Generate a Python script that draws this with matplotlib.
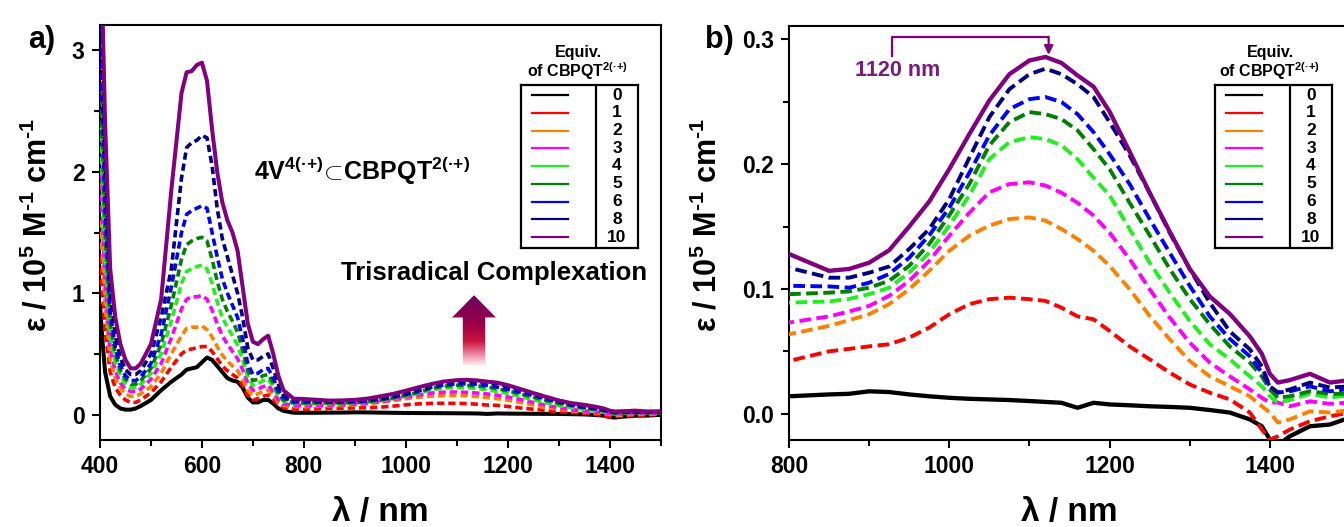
import numpy as np
import matplotlib
matplotlib.use("Agg")
import matplotlib.pyplot as plt
from matplotlib.patches import Polygon
from matplotlib.colors import LinearSegmentedColormap
from matplotlib.ticker import MultipleLocator

plt.rcParams['font.family'] = ['Liberation Sans', 'DejaVu Sans']
plt.rcParams['font.weight'] = 'bold'
plt.rcParams['mathtext.fontset'] = 'custom'
plt.rcParams['mathtext.rm'] = 'Liberation Sans:bold'
plt.rcParams['mathtext.it'] = 'Liberation Sans:bold'
plt.rcParams['mathtext.bf'] = 'Liberation Sans:bold'

# ---------------- data ----------------
wl_vis = [400, 405, 410, 420, 430, 440, 450, 460, 470, 480, 500, 520, 540, 560, 570, 580, 590, 600,
          610, 620, 630, 640, 650, 660, 670, 680, 690, 700, 710, 720, 730, 740, 750, 760, 780]
wl_nir = [800, 850, 875, 900, 925, 950, 975, 1000, 1025, 1050, 1075, 1100, 1120, 1140, 1160, 1180,
          1200, 1225, 1250, 1275, 1300, 1325, 1350, 1375, 1390, 1400, 1410, 1425, 1450, 1475, 1500]
wavelength = wl_vis + wl_nir

equiv_labels = ['0', '1', '2', '3', '4', '5', '6', '8', '10']
colors = ['#000000', '#ff0000', '#ff8000', '#ff00ff', '#22ee22', '#008000', '#0000ff', '#000080', '#800080']

eps_0 = [0.9, 0.6, 0.35, 0.15, 0.08, 0.05, 0.04, 0.04, 0.05, 0.07, 0.12, 0.2, 0.27, 0.33, 0.37, 0.38, 0.39, 0.43,
         0.47, 0.45, 0.40, 0.35, 0.30, 0.28, 0.27, 0.22, 0.14, 0.10, 0.10, 0.12, 0.12, 0.09, 0.05, 0.03, 0.015,
         0.014, 0.0155, 0.016, 0.018, 0.0174, 0.0155, 0.014, 0.0128, 0.012, 0.0115, 0.011, 0.0102, 0.0095, 0.0088,
         0.0048, 0.0088, 0.0075, 0.0068, 0.006, 0.0055, 0.0048, 0.003, 0.001, -0.0045, -0.010, -0.0206, -0.025,
         -0.018, -0.010, -0.0086, -0.003]
eps_1 = [1.3, 1.0, 0.7, 0.35, 0.22, 0.16, 0.12, 0.10, 0.10, 0.12, 0.18, 0.27, 0.39, 0.50, 0.53, 0.54, 0.55, 0.56,
         0.56, 0.52, 0.46, 0.40, 0.36, 0.33, 0.30, 0.24, 0.16, 0.12, 0.13, 0.15, 0.16, 0.13, 0.08, 0.06, 0.045,
         0.0423, 0.050, 0.052, 0.054, 0.0557, 0.061, 0.069, 0.0797, 0.0878, 0.0918, 0.093, 0.0918, 0.0904, 0.085,
         0.078, 0.0757, 0.0664, 0.054, 0.0436, 0.033, 0.0235, 0.0169, 0.0115, 0.001, -0.0126, -0.0206, -0.018,
         -0.0126, -0.006, -0.002, 0.001]
eps_2 = [1.6, 1.3, 0.9, 0.45, 0.30, 0.22, 0.17, 0.15, 0.15, 0.17, 0.23, 0.34, 0.50, 0.65, 0.71, 0.72, 0.72, 0.73,
         0.70, 0.64, 0.56, 0.49, 0.44, 0.40, 0.36, 0.29, 0.20, 0.16, 0.17, 0.19, 0.20, 0.16, 0.10, 0.075, 0.065,
         0.0637, 0.0704, 0.075, 0.0797, 0.0878, 0.0998, 0.1145, 0.1306, 0.1426, 0.1507, 0.156, 0.1573, 0.1547,
         0.148, 0.140, 0.1306, 0.1185, 0.0998, 0.0784, 0.0597, 0.0423, 0.030, 0.022, 0.014, 0.006, 0.001, -0.007,
         -0.0045, 0.002, 0.001, 0.003]
eps_3 = [2.0, 1.6, 1.1, 0.55, 0.36, 0.26, 0.21, 0.19, 0.19, 0.21, 0.29, 0.42, 0.63, 0.87, 0.95, 0.97, 0.97, 0.98,
         0.95, 0.86, 0.75, 0.65, 0.58, 0.52, 0.46, 0.37, 0.26, 0.20, 0.21, 0.23, 0.24, 0.19, 0.12, 0.09, 0.075,
         0.073, 0.078, 0.082, 0.0864, 0.0945, 0.1065, 0.1225, 0.1426, 0.161, 0.1774, 0.184, 0.1854, 0.1828, 0.177,
         0.169, 0.1587, 0.145, 0.124, 0.0998, 0.077, 0.057, 0.041, 0.030, 0.0195, 0.0128, 0.009, 0.009, 0.006,
         0.010, 0.008, 0.009]
eps_4 = [2.4, 1.9, 1.3, 0.65, 0.43, 0.32, 0.25, 0.22, 0.22, 0.25, 0.34, 0.50, 0.77, 1.08, 1.18, 1.20, 1.22, 1.23,
         1.20, 1.08, 0.93, 0.80, 0.72, 0.65, 0.57, 0.45, 0.31, 0.24, 0.25, 0.28, 0.29, 0.23, 0.15, 0.11, 0.09,
         0.089, 0.090, 0.092, 0.0958, 0.101, 0.113, 0.129, 0.1507, 0.175, 0.204, 0.2176, 0.2216, 0.220, 0.215,
         0.204, 0.189, 0.175, 0.148, 0.121, 0.097, 0.0744, 0.0557, 0.0436, 0.030, 0.022, 0.014, 0.009, 0.011,
         0.016, 0.013, 0.015]
eps_5 = [2.7, 2.2, 1.5, 0.75, 0.50, 0.36, 0.29, 0.25, 0.25, 0.28, 0.38, 0.58, 0.90, 1.28, 1.40, 1.43, 1.45, 1.46,
         1.43, 1.28, 1.10, 0.95, 0.85, 0.77, 0.68, 0.53, 0.36, 0.28, 0.29, 0.32, 0.33, 0.26, 0.17, 0.12, 0.098,
         0.0958, 0.097, 0.098, 0.101, 0.1065, 0.1185, 0.136, 0.159, 0.184, 0.215, 0.2336, 0.2416, 0.240, 0.236,
         0.227, 0.212, 0.196, 0.169, 0.143, 0.116, 0.092, 0.0717, 0.054, 0.041, 0.030, 0.0195, 0.0128, 0.014,
         0.018, 0.016, 0.016]
eps_6 = [3.0, 2.5, 1.7, 0.85, 0.55, 0.40, 0.32, 0.28, 0.28, 0.31, 0.42, 0.66, 1.05, 1.50, 1.65, 1.68, 1.70, 1.72,
         1.70, 1.50, 1.30, 1.12, 1.00, 0.90, 0.80, 0.62, 0.42, 0.33, 0.34, 0.37, 0.38, 0.30, 0.20, 0.14, 0.105,
         0.1025, 0.102, 0.101, 0.105, 0.112, 0.125, 0.143, 0.165, 0.193, 0.223, 0.244, 0.252, 0.2537, 0.2497,
         0.240, 0.2256, 0.208, 0.184, 0.156, 0.129, 0.1025, 0.078, 0.060, 0.046, 0.033, 0.022, 0.017, 0.018,
         0.022, 0.018, 0.020]
eps_8 = [3.3, 2.9, 2.1, 1.0, 0.65, 0.47, 0.37, 0.33, 0.33, 0.36, 0.50, 0.80, 1.20, 1.95, 2.20, 2.24, 2.26, 2.30,
         2.28, 2.05, 1.70, 1.45, 1.30, 1.15, 1.00, 0.80, 0.55, 0.45, 0.45, 0.48, 0.50, 0.38, 0.25, 0.16, 0.12,
         0.117, 0.109, 0.109, 0.113, 0.118, 0.132, 0.148, 0.172, 0.205, 0.2376, 0.260, 0.272, 0.2764, 0.272,
         0.264, 0.2537, 0.2336, 0.207, 0.177, 0.145, 0.116, 0.089, 0.066, 0.0516, 0.038, 0.022, 0.017, 0.0195,
         0.025, 0.021, 0.022]
eps_10 = [3.6, 3.3, 2.4, 1.2, 0.80, 0.58, 0.45, 0.38, 0.38, 0.42, 0.58, 0.95, 1.85, 2.65, 2.82, 2.83, 2.88, 2.90,
          2.75, 2.35, 2.00, 1.75, 1.60, 1.50, 1.35, 1.05, 0.75, 0.60, 0.58, 0.62, 0.65, 0.50, 0.32, 0.20, 0.13,
          0.128, 0.1145, 0.116, 0.121, 0.131, 0.150, 0.170, 0.196, 0.224, 0.251, 0.272, 0.283, 0.2858, 0.281,
          0.271, 0.262, 0.242, 0.210, 0.177, 0.146, 0.116, 0.094, 0.080, 0.062, 0.048, 0.032, 0.025, 0.027,
          0.032, 0.025, 0.027]
series = [eps_0, eps_1, eps_2, eps_3, eps_4, eps_5, eps_6, eps_8, eps_10]

purple = '#800080'

# ---------------- figure ----------------
W, H = 1344, 527
fig = plt.figure(figsize=(W / 100, H / 100), dpi=100)


def px_axes(l, t, r, b):
    return fig.add_axes([l / W, 1 - b / H, (r - l) / W, (b - t) / H])


ax_a = px_axes(100, 25, 660.5, 440)
ax_b = px_axes(789, 26, 1350, 440)


def style_axes(ax):
    for s in ax.spines.values():
        s.set_linewidth(1.5)
    ax.tick_params(which='both', direction='out', top=False, right=False, width=1.5)
    ax.tick_params(which='major', length=6, labelsize=16.5, pad=5)
    ax.tick_params(which='minor', length=4)


def draw_series(ax, dash, lw):
    for i, (vals, c) in enumerate(zip(series, colors)):
        solid = equiv_labels[i] in ('0', '10')
        ls = '-' if solid else (0, dash)
        ax.plot(wavelength, vals, color=c, lw=lw + (0.3 if solid else 0), ls=ls, zorder=2 + i,
                solid_capstyle='round', solid_joinstyle='round', dash_capstyle='butt')


# panel a
draw_series(ax_a, (2.0, 1.1), 2.6)
ax_a.set_xlim(400, 1500)
ax_a.set_ylim(-0.21, 3.21)
ax_a.set_xticks([400, 600, 800, 1000, 1200, 1400])
ax_a.xaxis.set_minor_locator(MultipleLocator(100))
ax_a.yaxis.set_major_locator(MultipleLocator(1))
ax_a.yaxis.set_minor_locator(MultipleLocator(0.5))
style_axes(ax_a)

# panel b
draw_series(ax_b, (3.0, 1.4), 2.8)
ax_b.set_xlim(800, 1500)
ax_b.set_ylim(-0.021, 0.3106)
ax_b.set_xticks([800, 1000, 1200, 1400])
ax_b.xaxis.set_minor_locator(MultipleLocator(100))
ax_b.yaxis.set_major_locator(MultipleLocator(0.1))
ax_b.yaxis.set_minor_locator(MultipleLocator(0.05))
ax_b.yaxis.set_major_formatter(matplotlib.ticker.FormatStrFormatter('%.1f'))
style_axes(ax_b)

# axis labels & panel letters
ylab = '\u03b5 / 10$^{5}$ M$^{\u2010{1}}$ cm$^{\u2010{1}}$'
for xc in (38, 708):
    fig.text(xc / W, 1 - 225 / H, ylab, rotation=90, ha='center', va='center', fontsize=22, fontweight='bold')
for xc in (380, 1069):
    fig.text(xc / W, 1 - 497 / H, '\u03bb / nm', ha='center', va='top', fontsize=24, fontweight='bold')
fig.text(42 / W, 1 - 40 / H, 'a)', ha='center', va='center', fontsize=22, fontweight='bold')
fig.text(719 / W, 1 - 40 / H, 'b)', ha='center', va='center', fontsize=22, fontweight='bold')

# annotations panel a
fig.text(254 / W, 1 - 171 / H, '4V$^{4(\u00b7{+})}\\!\\subset\\!$CBPQT$^{2(\u00b7{+})}$', fontsize=18,
         fontweight='bold', ha='left', va='center')
fig.text(341 / W, 1 - 273 / H, 'Trisradical Complexation', ha='left', va='center', fontsize=18.5,
         fontweight='bold')

arrow_pts = [(1112, 0.40), (1112, 0.80), (1091, 0.80), (1134, 0.983), (1177, 0.80), (1156, 0.80), (1156, 0.40)]
poly = Polygon(arrow_pts, closed=True, facecolor='none', edgecolor='none')
ax_a.add_patch(poly)
cmap = LinearSegmentedColormap.from_list('arr', [(0.0, '#fff4f7'), (0.15, '#f090aa'), (0.35, '#c8123f'),
                                                 (0.6, '#9a0048'), (1.0, '#6a0060')])
grad = np.linspace(0, 1, 256).reshape(-1, 1)
im = ax_a.imshow(grad, extent=[1091, 1177, 0.40, 0.983], origin='lower', aspect='auto', cmap=cmap, zorder=20)
im.set_clip_path(poly)
ax_a.set_xlim(400, 1500)
ax_a.set_ylim(-0.21, 3.21)

# annotation panel b
ax_b.plot([929, 929, 1124], [0.2858, 0.3015, 0.3015], color=purple, lw=1.6, zorder=20, solid_capstyle='butt')
ax_b.annotate('', xy=(1124, 0.2875), xytext=(1124, 0.302),
              arrowprops=dict(arrowstyle='-|>', color=purple, lw=1.6, mutation_scale=13, shrinkA=0, shrinkB=0),
              zorder=20)
ax_b.text(935, 0.275, '1120 nm', color='#7a1a7a', fontsize=15.5, fontweight='bold', ha='center', va='center',
          zorder=20)


# legends
def draw_legend(l, title_cx):
    t, r, b = 85, l + 117, 248
    lax = px_axes(l, t, r, b)
    lax.set_xlim(0, 117)
    lax.set_ylim(163, 0)
    lax.set_xticks([])
    lax.set_yticks([])
    for s in lax.spines.values():
        s.set_linewidth(1.6)
    lax.axvline(75, color='black', lw=1.6)
    for i, (lab, c) in enumerate(zip(equiv_labels, colors)):
        y = 10 + i * 17.75
        lax.plot([11, 47], [y, y], color=c, lw=1.6)
        lax.text(96, y, lab, ha='center', va='center', fontsize=12.5, fontweight='bold')
    fig.text(title_cx / W, 1 - 53 / H, 'Equiv.', ha='center', va='center', fontsize=11.5, fontweight='bold')
    fig.text(title_cx / W, 1 - 71 / H, 'of CBPQT$^{2(\u00b7{+})}$', ha='center', va='center', fontsize=11.5,
             fontweight='bold')


draw_legend(521, 578)
draw_legend(1215, 1270)

fig.savefig('out.png', dpi=100)
